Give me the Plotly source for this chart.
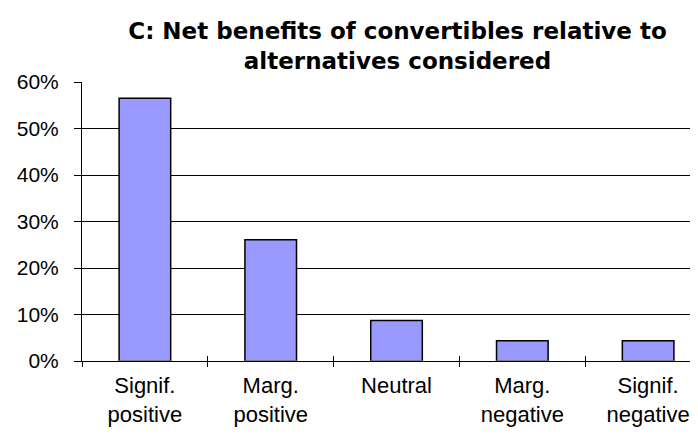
import plotly.graph_objects as go

categories = ["Signif.<br>positive", "Marg.<br>positive", "Neutral", "Marg.<br>negative", "Signif.<br>negative"]
values = [0.565, 0.261, 0.087, 0.0435, 0.0435]
title_text = "C: Net benefits of convertibles relative to<br>alternatives considered"

fig = go.Figure()
fig.add_trace(go.Bar(
    x=categories, y=values,
    marker=dict(color="#9999FF", line=dict(color="black", width=1.5)),
    width=0.41, hoverinfo="skip",
))
# invisible trace to carry the inner half of the x-axis boundary ticks
fig.add_trace(go.Bar(x=categories, y=[0]*5, xaxis="x2", showlegend=False,
                     marker=dict(color="rgba(0,0,0,0)"), hoverinfo="skip"))

fig.update_layout(
    width=698, height=434,
    margin=dict(l=74, r=0, t=74, b=81),
    paper_bgcolor="white", plot_bgcolor="white",
    showlegend=False,
    title=dict(text=title_text, x=0.558, xanchor="center", xref="container",
               y=1 - 31/434, yanchor="top", yref="container",
               font=dict(family="DejaVu Sans", size=23, color="black", weight="bold")),
    xaxis=dict(type="category", range=[-0.5, 4.46], tickson="boundaries",
               ticks="outside", ticklen=5, tickcolor="black", tickwidth=1,
               showline=True, linecolor="black", linewidth=1,
               tickfont=dict(family="Liberation Sans", size=22, color="black"),
               ticklabelstandoff=5, automargin=False,
               showgrid=False, zeroline=False),
    xaxis2=dict(type="category", overlaying="x", matches="x", anchor="y",
                side="bottom", tickson="boundaries", ticks="inside", ticklen=5,
                tickcolor="black", showticklabels=False, showline=False,
                showgrid=False, zeroline=False, automargin=False),
    yaxis=dict(range=[0, 0.6], dtick=0.1, tickformat=".0%",
               showgrid=True, gridcolor="black", gridwidth=1,
               showline=True, linecolor="black", linewidth=1,
               ticks="outside", ticklen=7, tickcolor="black",
               tickfont=dict(family="Liberation Sans", size=21, color="black"),
               ticklabelstandoff=11, automargin=False, zeroline=False),
    bargap=0.59,
)
fig.write_html("out.html")
